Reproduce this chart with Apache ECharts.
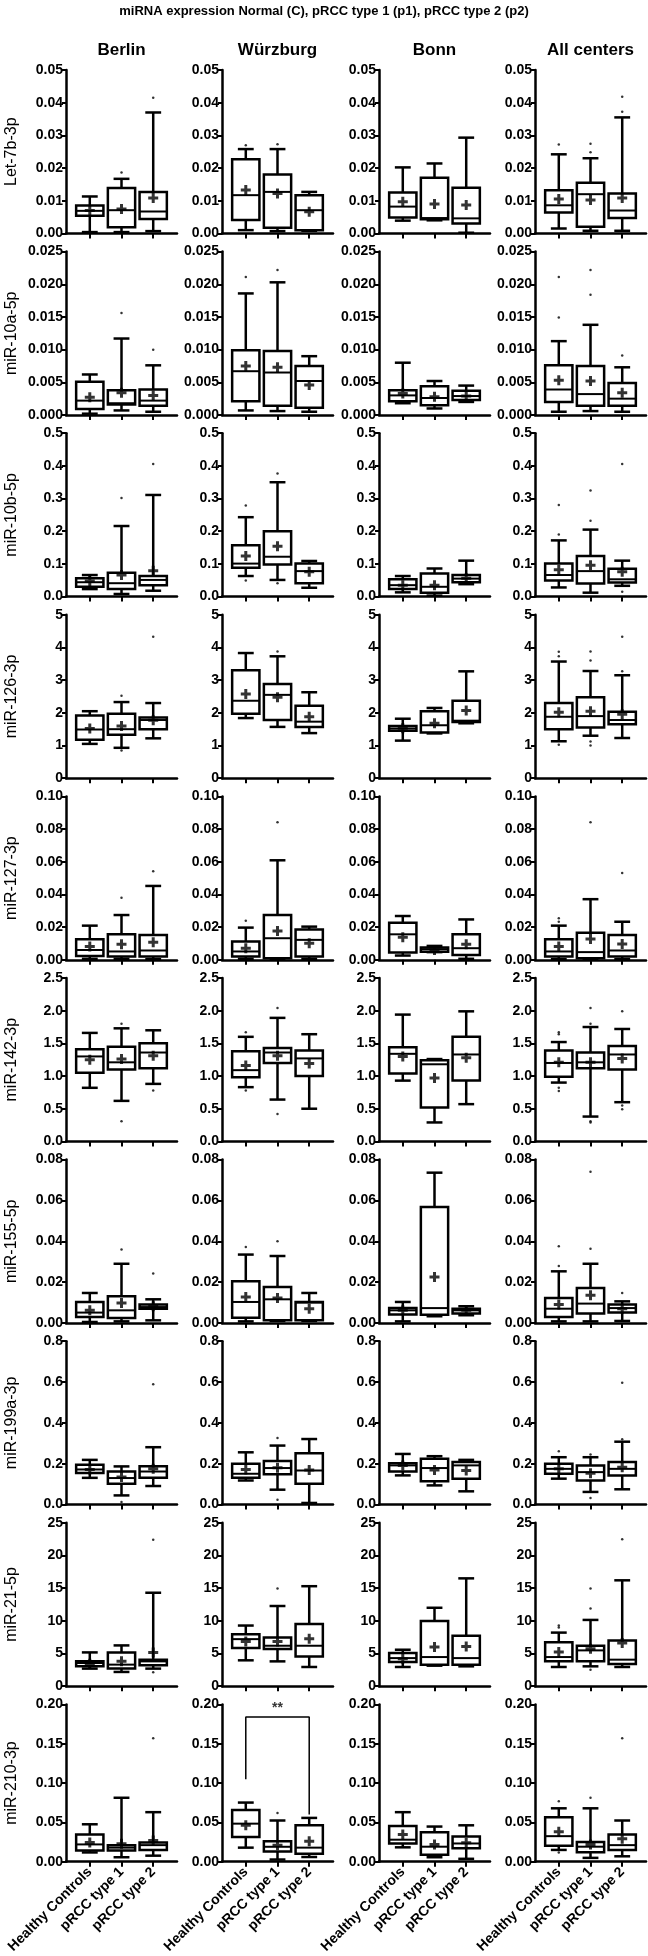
<!DOCTYPE html>
<html><head><meta charset="utf-8">
<script src="https://cdn.jsdelivr.net/npm/echarts@6/dist/echarts.min.js"></script>
<style>html,body{margin:0;padding:0;background:#fff}#c{width:648px;height:1956px}</style>
</head><body><div id="c"></div>
<script>
const TITLE = 'miRNA expression Normal (C), pRCC type 1 (p1), pRCC type 2 (p2)';
const CENTERS = ['Berlin', 'Würzburg', 'Bonn', 'All centers'];
const GROUPS = ['Healthy Controls', 'pRCC type 1', 'pRCC type 2'];
const MIRNAS = ['Let-7b-3p', 'miR-10a-5p', 'miR-10b-5p', 'miR-126-3p', 'miR-127-3p', 'miR-142-3p', 'miR-155-5p', 'miR-199a-3p', 'miR-21-5p', 'miR-210-3p'];
const Y_MAX = [0.05, 0.025, 0.5, 5, 0.10, 2.5, 0.08, 0.8, 25, 0.20];
const Y_STEP = [0.01, 0.005, 0.1, 1, 0.02, 0.5, 0.02, 0.2, 5, 0.05];
const Y_DEC = [2, 3, 1, 0, 2, 1, 2, 1, 0, 2];

// box stats per center [Berlin, Würzburg, Bonn, All], per group [HC, p1, p2]: [low whisker, Q1, median, Q3, high whisker]
const let7b_box = [
  [[0.0004, 0.0054, 0.0069, 0.0085, 0.0113], [0.0004, 0.0019, 0.0071, 0.0139, 0.0167], [0.0007, 0.0044, 0.0067, 0.0127, 0.037]],
  [[0.001, 0.0041, 0.0117, 0.0227, 0.0258], [0.0007, 0.0017, 0.0127, 0.018, 0.0258], [0.0008, 0.001, 0.0071, 0.0117, 0.0127]],
  [[0.0039, 0.0049, 0.0082, 0.0125, 0.0202], [0.004, 0.0043, 0.0047, 0.017, 0.0214], [0.0002, 0.003, 0.0046, 0.014, 0.0293]],
  [[0.0015, 0.0064, 0.0086, 0.0132, 0.0242], [0.0008, 0.002, 0.012, 0.0155, 0.023], [0.0008, 0.0047, 0.007, 0.0122, 0.0355]]
];
const let7b_mean = [[0.007, 0.0075, 0.0108], [0.0133, 0.0122, 0.0066], [0.0097, 0.009, 0.0087], [0.0105, 0.0102, 0.0108]];
const let7b_out = [[[], [0.0186], [0.0415]], [[0.027], [0.0273], []], [[], [], []], [[0.0272], [0.0274, 0.0248], [0.0372, 0.0418]]];

const mir10a_box = [
  [[0.0002, 0.0009, 0.0022, 0.0051, 0.0062], [0.0007, 0.0016, 0.0018, 0.0038, 0.0117], [0.0005, 0.0014, 0.0022, 0.0039, 0.0076]],
  [[0.0007, 0.0021, 0.0067, 0.0099, 0.0186], [0.0006, 0.0014, 0.0065, 0.0098, 0.0203], [0.0005, 0.0011, 0.0052, 0.0075, 0.009]],
  [[0.0018, 0.0021, 0.003, 0.0038, 0.008], [0.001, 0.0015, 0.0026, 0.0044, 0.0052], [0.002, 0.0023, 0.0029, 0.0037, 0.0045]],
  [[0.0005, 0.002, 0.0039, 0.0076, 0.0113], [0.0006, 0.0014, 0.0032, 0.0075, 0.0138], [0.0005, 0.0014, 0.0025, 0.0049, 0.0073]]
];
const mir10a_mean = [[0.0027, 0.0034, 0.003], [0.0075, 0.0073, 0.0046], [0.0033, 0.0028, 0.0029], [0.0053, 0.0052, 0.0034]];
const mir10a_out = [[[], [0.0156], [0.01]], [[0.0211], [0.0222], []], [[], [], []], [[0.0211, 0.0149], [0.0222, 0.0184], [0.0091]]];

const mir10b_box = [
  [[0.023, 0.03, 0.044, 0.056, 0.066], [0.008, 0.023, 0.041, 0.073, 0.216], [0.018, 0.035, 0.051, 0.063, 0.311]],
  [[0.063, 0.088, 0.101, 0.157, 0.243], [0.051, 0.098, 0.122, 0.2, 0.35], [0.027, 0.041, 0.078, 0.101, 0.109]],
  [[0.013, 0.023, 0.035, 0.053, 0.063], [0.003, 0.012, 0.03, 0.071, 0.086], [0.038, 0.044, 0.055, 0.066, 0.11]],
  [[0.028, 0.049, 0.066, 0.101, 0.172], [0.012, 0.04, 0.078, 0.124, 0.205], [0.033, 0.043, 0.053, 0.085, 0.11]]
];
const mir10b_mean = [[0.048, 0.066, 0.079], [0.124, 0.154, 0.076], [0.035, 0.035, 0.056], [0.082, 0.096, 0.076]];
const mir10b_out = [[[], [0.302], [0.406]], [[0.279, 0.049], [0.377, 0.041], []], [[], [], []], [[0.28, 0.19], [0.325, 0.232], [0.406, 0.015]]];

const mir126_box = [
  [[1.05, 1.18, 1.49, 1.92, 2.05], [0.93, 1.33, 1.5, 1.97, 2.33], [1.22, 1.5, 1.78, 1.86, 2.3]],
  [[1.84, 1.97, 2.37, 3.3, 3.83], [1.57, 1.78, 2.55, 2.88, 3.73], [1.38, 1.57, 1.73, 2.22, 2.63]],
  [[1.15, 1.45, 1.52, 1.6, 1.82], [1.37, 1.4, 1.62, 2.05, 2.15], [1.68, 1.72, 1.76, 2.37, 3.27]],
  [[1.13, 1.5, 1.88, 2.3, 3.57], [1.3, 1.55, 1.9, 2.48, 3.28], [1.23, 1.65, 1.78, 2.03, 3.15]]
];
const mir126_mean = [[1.52, 1.6, 1.77], [2.58, 2.48, 1.88], [1.53, 1.68, 2.07], [2.02, 2.05, 1.96]];
const mir126_out = [[[], [2.52, 0.85], [4.33]], [[], [3.88], []], [[], [], []], [[3.87, 3.73, 1.02], [3.88, 3.6, 1.12, 1.0], [4.33, 3.27]]];

const mir127_box = [
  [[0.0006, 0.0024, 0.006, 0.0126, 0.0209], [0.0006, 0.002, 0.0051, 0.0156, 0.0274], [0.0004, 0.002, 0.0057, 0.0152, 0.0452]],
  [[0.0006, 0.002, 0.0051, 0.0112, 0.0197], [0.0004, 0.001, 0.0132, 0.0274, 0.0609], [0.0006, 0.002, 0.0122, 0.0185, 0.0203]],
  [[0.0026, 0.0045, 0.0156, 0.0227, 0.0268], [0.0047, 0.005, 0.0065, 0.0075, 0.0085], [0.0006, 0.003, 0.0071, 0.0156, 0.0247]],
  [[0.0004, 0.002, 0.0051, 0.0126, 0.0209], [0.0004, 0.001, 0.0047, 0.0165, 0.0371], [0.0004, 0.002, 0.0057, 0.0152, 0.0233]]
];
const mir127_mean = [[0.0081, 0.0095, 0.0107], [0.0071, 0.0176, 0.0101], [0.0138, 0.006, 0.0095], [0.0081, 0.0128, 0.0097]];
const mir127_out = [[[], [0.038], [0.0542]], [[0.0239], [0.0842], []], [[], [], []], [[0.0254, 0.0233], [0.0842], [0.0531]]];

const mir142_box = [
  [[0.82, 1.05, 1.3, 1.41, 1.66], [0.62, 1.1, 1.21, 1.45, 1.73], [0.88, 1.12, 1.36, 1.5, 1.7]],
  [[0.83, 0.98, 1.09, 1.38, 1.6], [0.64, 1.2, 1.36, 1.43, 1.89], [0.5, 1.0, 1.27, 1.39, 1.64]],
  [[0.93, 1.04, 1.34, 1.44, 1.94], [0.29, 0.52, 1.18, 1.24, 1.26], [0.57, 0.93, 1.33, 1.6, 1.99]],
  [[0.9, 0.99, 1.2, 1.39, 1.52], [0.38, 1.12, 1.21, 1.36, 1.75], [0.6, 1.1, 1.33, 1.46, 1.72]]
];
const mir142_mean = [[1.25, 1.26, 1.31], [1.16, 1.31, 1.19], [1.3, 0.97, 1.28], [1.21, 1.21, 1.27]];
const mir142_out = [[[], [1.8, 0.31], [0.78]], [[1.67, 0.78], [2.04, 0.42], []], [[], [], []], [[1.67, 1.64, 0.82, 0.77], [2.04, 1.8, 0.31, 0.29], [1.99, 0.55, 0.49]]];

const mir155_box = [
  [[0.0005, 0.0029, 0.0051, 0.0103, 0.0147], [0.0008, 0.0024, 0.0062, 0.0131, 0.029], [0.0013, 0.007, 0.0078, 0.0091, 0.0116]],
  [[0.0008, 0.0026, 0.0103, 0.0204, 0.0335], [0.001, 0.0013, 0.0116, 0.0176, 0.0328], [0.001, 0.0013, 0.01, 0.0103, 0.0147]],
  [[0.0008, 0.0042, 0.0062, 0.0073, 0.0103], [0.0033, 0.0041, 0.0073, 0.0568, 0.0736], [0.0038, 0.0046, 0.0062, 0.007, 0.0082]],
  [[0.0008, 0.0029, 0.007, 0.0122, 0.0253], [0.0008, 0.0046, 0.0095, 0.0171, 0.029], [0.001, 0.0051, 0.0073, 0.009, 0.0106]]
];
const mir155_mean = [[0.0062, 0.0098, 0.0082], [0.0127, 0.0122, 0.007], [0.0062, 0.0225, 0.0062], [0.0091, 0.0136, 0.007]];
const mir155_out = [[[], [0.036], [0.0242]], [[0.0372], [0.04], []], [[], [], []], [[0.0376, 0.0279], [0.074, 0.0364], [0.0147]]];

const mir199a_box = [
  [[0.131, 0.155, 0.172, 0.195, 0.219], [0.045, 0.102, 0.13, 0.162, 0.187], [0.091, 0.131, 0.162, 0.188, 0.281]],
  [[0.118, 0.131, 0.151, 0.2, 0.256], [0.073, 0.148, 0.179, 0.213, 0.289], [0.008, 0.102, 0.167, 0.252, 0.321]],
  [[0.143, 0.162, 0.192, 0.203, 0.248], [0.094, 0.114, 0.179, 0.224, 0.237], [0.065, 0.127, 0.192, 0.208, 0.219]],
  [[0.127, 0.151, 0.175, 0.2, 0.232], [0.062, 0.118, 0.159, 0.192, 0.232], [0.075, 0.143, 0.175, 0.208, 0.308]]
];
const mir199a_mean = [[0.172, 0.135, 0.175], [0.172, 0.18, 0.17], [0.192, 0.17, 0.167], [0.175, 0.154, 0.183]];
const mir199a_out = [[[], [0.013], [0.589]], [[], [0.326, 0.024], []], [[], [], []], [[0.261], [0.245, 0.032], [0.32, 0.597]]];

const mir21_box = [
  [[2.69, 3.04, 3.55, 3.8, 5.17], [2.18, 2.69, 3.3, 5.17, 6.24], [2.69, 3.2, 3.8, 4.06, 14.3]],
  [[3.96, 5.83, 7.2, 7.96, 9.28], [3.8, 5.68, 6.19, 7.45, 12.27], [2.94, 4.56, 6.19, 9.53, 15.3]],
  [[2.94, 3.7, 4.3, 5.07, 5.58], [3.14, 3.3, 4.46, 9.99, 12.0], [3.04, 3.3, 4.3, 7.7, 16.5]],
  [[2.94, 3.8, 4.46, 6.74, 8.2], [3.04, 3.8, 5.48, 6.19, 10.14], [2.94, 3.4, 4.06, 7.0, 16.2]]
];
const mir21_mean = [[3.45, 3.8, 5.17], [6.85, 6.85, 7.25], [4.2, 5.98, 6.08], [5.22, 5.73, 6.6]];
const mir21_out = [[[], [], [22.4, 2.13]], [[], [14.96], []], [[], [], []], [[9.28, 9.0], [14.96, 11.9, 2.5], [22.5]]];

const mir210_box = [
  [[0.0118, 0.0142, 0.022, 0.0346, 0.0476], [0.0057, 0.0142, 0.0179, 0.0211, 0.0813], [0.0077, 0.015, 0.0211, 0.0244, 0.063]],
  [[0.0179, 0.0313, 0.0484, 0.0659, 0.0752], [0.0028, 0.013, 0.019, 0.026, 0.0524], [0.006, 0.0102, 0.0179, 0.0463, 0.0557]],
  [[0.0183, 0.0232, 0.028, 0.0455, 0.063], [0.0057, 0.0089, 0.0191, 0.0374, 0.0447], [0.0037, 0.0171, 0.0232, 0.0321, 0.0463]],
  [[0.015, 0.0203, 0.0325, 0.0565, 0.0679], [0.0049, 0.0122, 0.0191, 0.0252, 0.0679], [0.0069, 0.015, 0.0211, 0.0346, 0.0524]]
];
const mir210_mean = [[0.0244, 0.023, 0.027], [0.0463, 0.021, 0.026], [0.0346, 0.022, 0.024], [0.0382, 0.022, 0.0293]];
const mir210_out = [[[], [], [0.157]], [[], [0.0618], []], [[], [], []], [[0.0768, 0.0118], [0.0813], [0.157]]];

// significance bracket (Würzburg, miR-210-3p): HC vs pRCC type 2
const sigBracket = [[1, 0.105], [1, 0.184], [3, 0.184], [3, 0.06]];
const sigLabel = [[2, 0.186, '**']];

const BOX = [let7b_box, mir10a_box, mir10b_box, mir126_box, mir127_box, mir142_box, mir155_box, mir199a_box, mir21_box, mir210_box];
const MEAN = [let7b_mean, mir10a_mean, mir10b_mean, mir126_mean, mir127_mean, mir142_mean, mir155_mean, mir199a_mean, mir21_mean, mir210_mean];
const OUT = [let7b_out, mir10a_out, mir10b_out, mir126_out, mir127_out, mir142_out, mir155_out, mir199a_out, mir21_out, mir210_out];

// layout
const X0 = [66, 222, 379, 535];
const W = 111;
const TOP0 = 70;
const ROWH = 181.6;
const H = 163.4;
const BOLDF = "'Liberation Sans',Arial,Helvetica,sans-serif";
const REG = "'Liberation Sans',Arial,sans-serif";
const PLUS = 'path://M3.5,0H6.5V3.5H10V6.5H6.5V10H3.5V6.5H0V3.5H3.5Z';
const LW = 2.5;

function renderBox(params, api) {
  const x = api.value(0);
  const p = [1, 2, 3, 4, 5].map(d => api.coord([x, api.value(d)]));
  const band = api.size([1, 0])[0];
  const hw = band * 0.43, cw = band * 0.25;
  const cx = p[0][0];
  const [yLo, yQ1, yMed, yQ3, yHi] = p.map(q => q[1]);
  const ln = (x1, y1, x2, y2, w) => ({ type: 'line', shape: { x1, y1, x2, y2 }, style: { stroke: '#000', lineWidth: w || LW } });
  return {
    type: 'group',
    children: [
      ln(cx, yLo, cx, yQ1),
      ln(cx, yQ3, cx, yHi),
      ln(cx - cw, yLo, cx + cw, yLo),
      ln(cx - cw, yHi, cx + cw, yHi),
      { type: 'rect', shape: { x: cx - hw, y: yQ3, width: 2 * hw, height: yQ1 - yQ3 }, style: { fill: '#fff', stroke: '#000', lineWidth: LW } },
      ln(cx - hw, yMed, cx + hw, yMed, 2)
    ]
  };
}

const grids = [], xAxes = [], yAxes = [], series = [];
for (let r = 0; r < 10; r++) {
  for (let c = 0; c < 4; c++) {
    const i = r * 4 + c;
    grids.push({ left: X0[c], top: TOP0 + r * ROWH, width: W, height: H });
    xAxes.push({
      gridIndex: i, type: 'value', min: 0.25, max: 3.75,
      splitLine: { show: false },
      axisLine: { show: true, onZero: false, lineStyle: { color: '#000', width: LW } },
      axisTick: { show: true, customValues: [1, 2, 3], length: 5, lineStyle: { color: '#000', width: 2 } },
      axisLabel: r === 9 ? {
        show: true, customValues: [1, 2, 3], rotate: 45, margin: 8,
        formatter: v => GROUPS[Math.round(v) - 1],
        color: '#000', fontSize: 14, fontWeight: 'bold', fontFamily: BOLDF
      } : { show: false }
    });
    yAxes.push({
      gridIndex: i, type: 'value', min: 0, max: Y_MAX[r], interval: Y_STEP[r],
      splitLine: { show: false },
      axisLine: { show: true, onZero: false, lineStyle: { color: '#000', width: LW } },
      axisTick: { show: true, length: 4, lineStyle: { color: '#000', width: 2 } },
      axisLabel: { formatter: v => v.toFixed(Y_DEC[r]), color: '#000', fontSize: 14, fontWeight: 'bold', fontFamily: BOLDF, margin: 3 },
      name: c === 0 ? MIRNAS[r] : '',
      nameLocation: 'middle', nameGap: 46,
      nameTextStyle: { color: '#000', fontSize: 16, fontFamily: REG }
    });
    series.push({
      type: 'custom', xAxisIndex: i, yAxisIndex: i, renderItem: renderBox, silent: true, clip: false,
      encode: { x: 0, y: [1, 2, 3, 4, 5] },
      data: BOX[r][c].map((b, g) => [g + 1].concat(b)), z: 2
    });
    series.push({
      type: 'scatter', xAxisIndex: i, yAxisIndex: i, symbol: PLUS, symbolSize: 10, silent: true,
      itemStyle: { color: '#000' }, z: 4,
      data: MEAN[r][c].map((m, g) => [g + 1, m])
    });
    const outs = [];
    OUT[r][c].forEach((arr, g) => arr.forEach(v => outs.push([g + 1, v])));
    series.push({
      type: 'scatter', xAxisIndex: i, yAxisIndex: i, symbol: 'circle', symbolSize: 2.5, silent: true,
      itemStyle: { color: '#000' }, z: 4, data: outs
    });
  }
}
const sigIdx = 9 * 4 + 1;
series.push({
  type: 'line', xAxisIndex: sigIdx, yAxisIndex: sigIdx, data: sigBracket, symbol: 'none', silent: true,
  lineStyle: { color: '#000', width: 1.5 }, z: 5
});
series.push({
  type: 'scatter', xAxisIndex: sigIdx, yAxisIndex: sigIdx, symbolSize: 0, silent: true,
  data: sigLabel.map(s => ({ value: [s[0], s[1]], label: { show: true, formatter: s[2], position: 'top', distance: 0, color: '#000', fontSize: 14, fontWeight: 'bold', fontFamily: REG } })),
  z: 5
});

const graphic = [
  { type: 'text', x: 324, y: 11, style: { text: TITLE, align: 'center', verticalAlign: 'middle', fontSize: 13, fontWeight: 'bold', fontFamily: BOLDF, fill: '#000' } }
].concat(CENTERS.map((t, c) => ({
  type: 'text', x: X0[c] + W / 2, y: 50,
  style: { text: t, align: 'center', verticalAlign: 'middle', fontSize: 17, fontWeight: 'bold', fontFamily: BOLDF, fill: '#000' }
})));

const chart = echarts.init(document.getElementById('c'));
chart.setOption({
  animation: false,
  backgroundColor: '#fff',
  grid: grids, xAxis: xAxes, yAxis: yAxes, series: series, graphic: graphic
});
</script></body></html>
